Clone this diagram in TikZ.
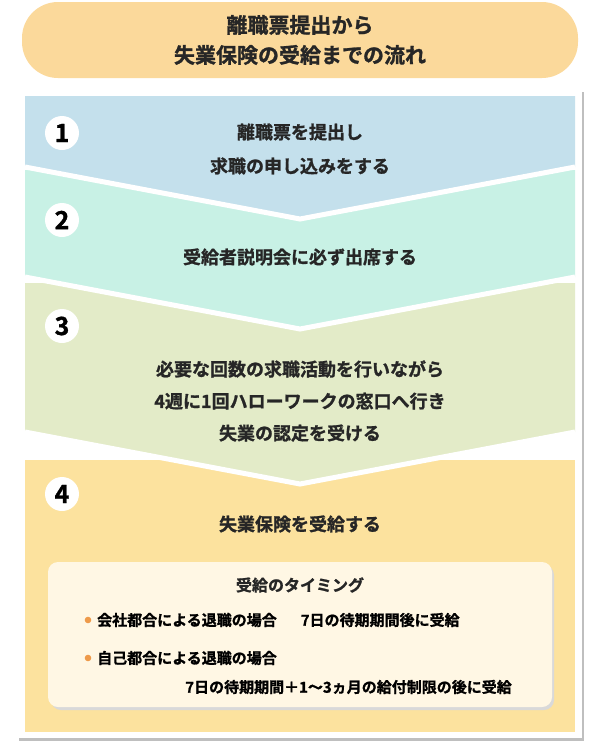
\documentclass[tikz,border=0pt]{standalone}
\usepackage{fontspec}
\setmainfont{Noto Sans CJK JP}[BoldFont={Noto Sans CJK JP Bold},BoldFeatures={FakeBold=1.2}]
\begin{document}
\begin{tikzpicture}[x=1pt,y=-1pt,
  chev/.style={draw=white,line width=5pt,line join=miter},
  num/.style={circle,fill=white,minimum size=34pt,inner sep=0pt,font=\bfseries\fontsize{25}{25}\selectfont},
  txt/.style={align=center,font=\bfseries\fontsize{18}{28}\selectfont,text=black!85}]
\useasboundingbox (0,0) rectangle (600,750);
\definecolor{c1}{HTML}{C4E0EC}
\definecolor{c2}{HTML}{C8F1E5}
\definecolor{c3}{HTML}{E3EBC8}
\definecolor{c4}{HTML}{FCE29E}
\definecolor{ttl}{HTML}{FBD99B}
\definecolor{inbox}{HTML}{FFF7E4}
\definecolor{dot}{HTML}{EE9A4A}
% title
\fill[ttl,rounded corners=36pt] (22,2) rectangle (578,78);
\node[txt,font=\bfseries\fontsize{21}{30}\selectfont] (title) at (300,40) {離職票提出から\\失業保険の受給までの流れ};
% frame with shadow
\fill[black!25] (19,92) rectangle (584,741);
\fill[white] (17,89) rectangle (582,738);
% step 4
\fill[c4] (25,460) rectangle (575,732);
% step 3
\fill[fill=c3] (25,283) -- (575,283) -- (575,432) -- (300,484) -- (25,432) -- cycle;
\draw[chev] (25,432) -- (300,484) -- (575,432);
% step 2
\fill[fill=c2] (25,170) -- (575,170) -- (575,277) -- (300,329) -- (25,277) -- cycle;
\draw[chev] (25,277) -- (300,329) -- (575,277);
% step 1
\fill[fill=c1] (25,96) -- (575,96) -- (575,167) -- (300,219) -- (25,167) -- cycle;
\draw[chev] (25,167) -- (300,219) -- (575,167);
% numbers
\node[num] (n1) at (62,133) {1};
\node[num] (n2) at (62,220) {2};
\node[num] (n3) at (62,326) {3};
\node[num] (n4) at (62,494) {4};
% texts
\node[txt,font=\bfseries\fontsize{18}{34}\selectfont] (t1) at (300,149) {離職票を提出し\\求職の申し込みをする};
\node[txt] (t2) at (300,257) {受給者説明会に必ず出席する};
\node[txt,font=\bfseries\fontsize{18}{32}\selectfont] (t3) at (300,401) {必要な回数の求職活動を行いながら\\4週に1回ハローワークの窓口へ行き\\失業の認定を受ける};
\node[txt] (t4) at (300,524) {失業保険を受給する};
% inner box
\fill[black!15,rounded corners=10pt] (51,565) rectangle (554,710);
\fill[inbox,rounded corners=10pt] (48,562) rectangle (552,707);
\node[txt,font=\bfseries\fontsize{16}{16}\selectfont] (h) at (300,585) {受給のタイミング};
\fill[dot] (88,620) circle (3.3pt);
\fill[dot] (88,658) circle (3.3pt);
\node[anchor=west,inner sep=0pt,font=\bfseries\fontsize{15}{15}\selectfont] (b1) at (97,620) {会社都合による退職の場合\hspace{24pt}7日の待期期間後に受給};
\node[anchor=west,inner sep=0pt,font=\bfseries\fontsize{15}{15}\selectfont] (b2) at (97,658) {自己都合による退職の場合};
\node[anchor=east,inner sep=0pt,font=\bfseries\fontsize{15}{15}\selectfont] (b3) at (512,687) {7日の待期期間＋1〜3ヵ月の給付制限の後に受給};
\end{tikzpicture}
\end{document}
